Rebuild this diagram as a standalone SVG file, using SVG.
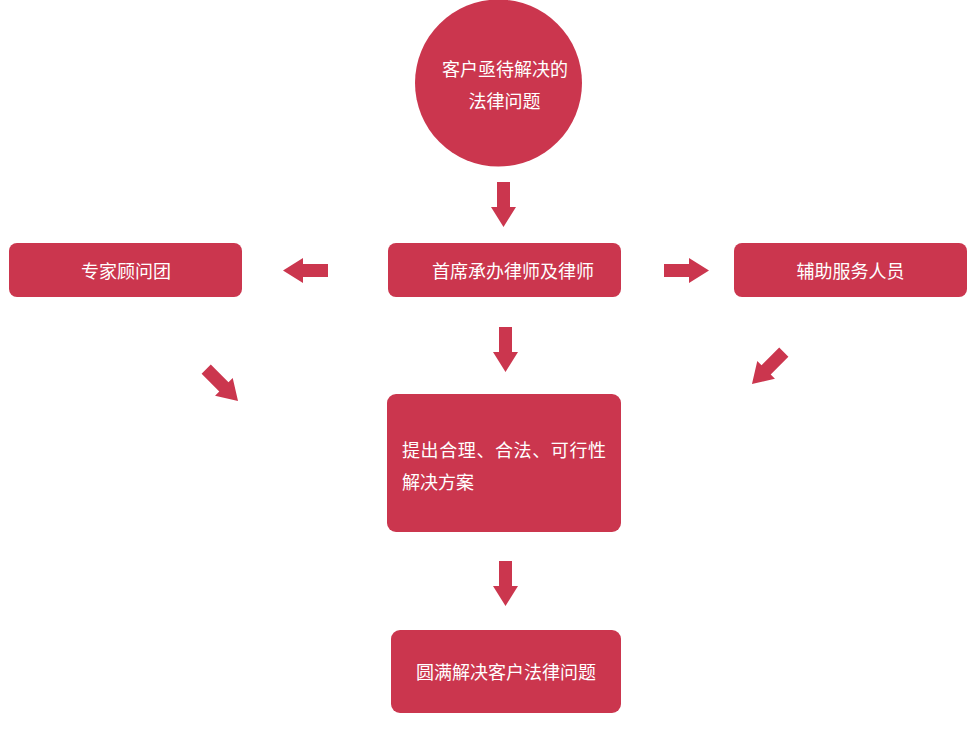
<svg xmlns="http://www.w3.org/2000/svg" width="967" height="748" viewBox="0 0 967 748">
<defs>
<style>
.n{fill:#CB364E}
.t{fill:#fff;font-family:"Noto Sans CJK SC","Liberation Sans",sans-serif;font-size:18px;dominant-baseline:central}
.c{text-anchor:middle}
.a{fill:#CB364E}
</style>
<path id="arr" d="M-6.5,0 H6.5 V25 H12.5 L0,45 L-12.5,25 H-6.5 Z"/>
</defs>
<rect width="967" height="748" fill="#fff"/>
<g id="n1"><circle class="n" cx="498.5" cy="83" r="83.5"/><text class="t c" x="505" y="68">客户亟待解决的</text><text class="t c" x="504.5" y="100">法律问题</text></g>
<g id="n2"><rect class="n" x="9" y="243" width="233" height="54" rx="8"/><text class="t c" x="126" y="270">专家顾问团</text></g>
<g id="n3"><rect class="n" x="388" y="243" width="233" height="54" rx="8"/><text class="t c" x="513" y="270">首席承办律师及律师</text></g>
<g id="n4"><rect class="n" x="734" y="243" width="233" height="54" rx="8"/><text class="t c" x="850.5" y="270">辅助服务人员</text></g>
<g id="n5"><rect class="n" x="387" y="394" width="234" height="138" rx="9"/><text class="t" x="402" y="449" textLength="204">提出合理、合法、可行性</text><text class="t" x="402" y="481">解决方案</text></g>
<g id="n6"><rect class="n" x="391" y="630" width="230" height="83" rx="9"/><text class="t c" x="506" y="671">圆满解决客户法律问题</text></g>
<g id="connectors" class="a">
<use href="#arr" transform="translate(503.5,182)"/>
<use href="#arr" transform="translate(505.5,327)"/>
<use href="#arr" transform="translate(505.5,561)"/>
<use href="#arr" transform="translate(328,270.5) rotate(90)"/>
<use href="#arr" transform="translate(664,270.5) rotate(-90)"/>
<use href="#arr" transform="translate(206.2,369.2) rotate(-45)"/>
<use href="#arr" transform="translate(783.8,352.2) rotate(45)"/>
</g>
</svg>
